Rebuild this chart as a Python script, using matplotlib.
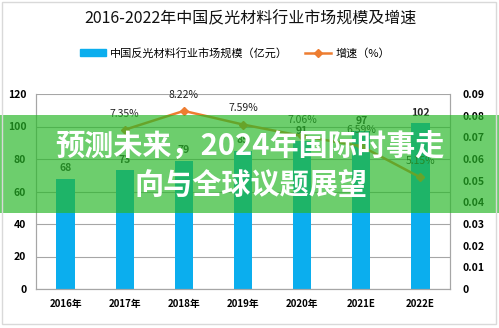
import matplotlib
matplotlib.use("Agg")
import matplotlib.pyplot as plt
from matplotlib.patches import Rectangle
from matplotlib.lines import Line2D
from matplotlib.patches import Patch

plt.rcParams['font.family'] = ['Noto Sans CJK SC', 'DejaVu Sans']

categories = ["2016年", "2017年", "2018年", "2019年", "2020年", "2021E", "2022E"]
market_size = [68, 73, 79, 85, 91, 97, 102]
growth_years = ["2017年", "2018年", "2019年", "2020年", "2021E", "2022E"]
growth_rate = [0.0735, 0.0822, 0.0759, 0.0706, 0.0659, 0.0515]
title = "2016-2022年中国反光材料行业市场规模及增速"
bar_label = "中国反光材料行业市场规模（亿元）"
line_label = "增速（%）"
banner_lines = ["预测未来，2024年国际时事走", "向与全球议题展望"]

W, H = 499, 328
fig = plt.figure(figsize=(W / 100, H / 100), dpi=100)
fig.patch.set_facecolor("white")

ax = fig.add_axes([36 / W, 39 / H, 414 / W, 195 / H])
x = list(range(len(categories)))
ax.bar(x, market_size, width=0.31, color="#0BAEEE", zorder=2)
ax.set_xlim(-0.5, len(categories) - 0.5)
ax.set_ylim(0, 120)
ax.set_yticks(range(0, 121, 20))
ax.set_xticks(x)
ax.set_xticklabels(categories, fontsize=7, fontweight="bold")
ax.tick_params(axis="y", labelsize=7.5, length=0, pad=7)
for lbl in ax.get_yticklabels():
    lbl.set_fontweight("bold")
ax.tick_params(axis="x", length=0, pad=7)
ax.grid(axis="y", color="#A6A6A6", linewidth=0.8, zorder=0)
ax.spines["top"].set_visible(False)
for s in ["left", "right", "bottom"]:
    ax.spines[s].set_color("#A6A6A6")
    ax.spines[s].set_linewidth(0.8)
for xi, v in zip(x, market_size):
    ax.annotate(str(v), (xi, v), xytext=(0, 4), textcoords="offset points",
                ha="center", va="bottom", fontsize=7.5, fontweight="bold", color="#222222")

ax2 = ax.twinx()
ax2.set_ylim(0, 0.09)
ax2.set_yticks([i / 100 for i in range(0, 10)])
ax2.set_yticklabels(["0"] + [f"{i/100:.2f}" for i in range(1, 10)])
ax2.tick_params(axis="y", labelsize=7.5, length=0, pad=9)
for lbl in ax2.get_yticklabels():
    lbl.set_fontweight("bold")
ax2.spines["top"].set_visible(False)
for s in ["left", "right", "bottom"]:
    ax2.spines[s].set_color("#A6A6A6")
    ax2.spines[s].set_linewidth(0.8)
gx = [categories.index(g) for g in growth_years]
ax2.plot(gx, growth_rate, color="#ED7D31", linewidth=1.8, marker="D", markersize=4, zorder=3)
for xi, v in zip(gx, growth_rate):
    ax2.annotate(f"{v*100:.2f}%", (xi, v), xytext=(0, 8), textcoords="offset points",
                 ha="center", va="bottom", fontsize=7.5, color="#222222")

fig.text(250 / W, 1 - 19 / H, title, ha="center", va="center", fontsize=11.5, color="#111111")

handles = [Patch(color="#0BAEEE"),
           Line2D([0], [0], color="#ED7D31", marker="D", markersize=4, linewidth=1.8)]
fig.legend(handles, [bar_label, line_label], loc="center", bbox_to_anchor=(235 / W, 1 - 53 / H),
           ncol=2, frameon=False, fontsize=8, handlelength=2.3, handleheight=0.6,
           columnspacing=1.5, handletextpad=0.4)

# banner overlay
fig.patches.append(Rectangle((0, 1 - 213 / H), 1, 98 / H, transform=fig.transFigure,
                             facecolor=(40 / 255, 184 / 255, 40 / 255), alpha=0.68,
                             edgecolor="none", zorder=10))
fig.text(250 / W, 1 - 147 / H, banner_lines[0], ha="center", va="center", fontsize=21,
         fontweight="heavy", color="white", zorder=11)
fig.text(251 / W, 1 - 185 / H, banner_lines[1], ha="center", va="center", fontsize=21,
         fontweight="heavy", color="white", zorder=11)

fig.patches.append(Rectangle((2 / W, 4 / H), 494 / W, 322 / H, transform=fig.transFigure,
                             facecolor="none", edgecolor="#D9D9D9", linewidth=1, zorder=12))

fig.savefig("out.png", dpi=100)
